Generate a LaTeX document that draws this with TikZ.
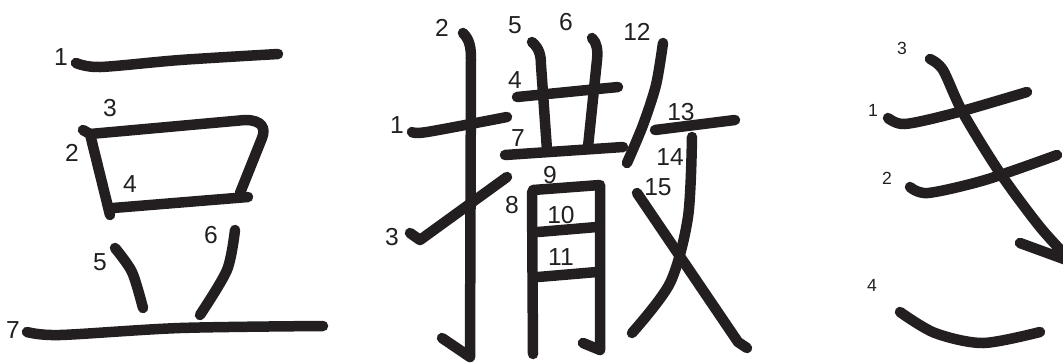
\documentclass[tikz,border=0pt]{standalone}
\usepackage{fontspec}
\setmainfont{Liberation Sans}
\definecolor{ink}{HTML}{231F20}
\tikzset{
  brush/.style={draw=ink, line width=0.21cm, line cap=round, line join=round},
  num/.style={font=\fontsize{14}{14}\selectfont, inner sep=0pt, text=ink},
  smallnum/.style={font=\fontsize{10}{10}\selectfont, inner sep=0pt, text=ink}
}

\begin{document}
\begin{tikzpicture}[x=0.02cm, y=-0.02cm]
\useasboundingbox (0,0) rectangle (1063,363);
\clip (0,0) rectangle (1063,363);
% mame
\draw [brush] plot [smooth] coordinates {(76,63) (100,67) (180,60) (278,54)};
\draw [brush] (83,130) -- (90,134) -- (110,215);
\draw [brush] (90,134) -- (245,120) .. controls (262,120) and (266,128) .. (262,138) -- (240,193);
\draw [brush] (113,208) -- (248,197);
\draw [brush] plot [smooth] coordinates {(115,248) (132,272) (143,308)};
\draw [brush] plot [smooth] coordinates {(235,230) (227,270) (200,315)};
\draw [brush] plot [smooth] coordinates {(27,332) (60,335) (180,328) (323,326)};
\node (m1) at (61,57) [num] {1};
\node (m2) at (72,153) [num] {2};
\node (m3) at (110,108) [num] {3};
\node (m4) at (130,184) [num] {4};
\node (m5) at (100,262) [num] {5};
\node (m6) at (211,235) [num] {6};
\node (m7) at (13,330) [num] {7};
% sanpu
\draw [brush] plot [smooth] coordinates {(412,132) (427,132) (507,117)};
\draw [brush] (463,33) .. controls (470,40) and (471,48) .. (471,60) -- (470,357) -- (442,338);
\draw [brush] (410,233) -- (420,240) -- (507,177);
\draw [brush] (517,97) -- (618,87);
\draw [brush] (532,42) .. controls (539,48) and (541,55) .. (541,65) -- (547,150);
\draw [brush] (592,38) .. controls (597,43) and (598,50) .. (597,60) -- (588,147);
\draw [brush] (505,155) -- (623,147);
\draw [brush] (532,192) -- (533,354);
\draw [brush] (533,190) -- (600,185) -- (600,350) -- (583,343);
\draw [brush] (538,232) -- (597,227);
\draw [brush] (538,277) -- (597,272);
\draw [brush] plot [smooth] coordinates {(663,43) (656,85) (643,125) (627,163)};
\draw [brush] (655,130) -- (735,120);
\draw [brush] plot [smooth] coordinates {(692,137) (688,217) (670,283) (632,333)};
\draw [brush] (637,193) -- (738,342) -- (747,348);
\node (s1) at (397,125) [num] {1};
\node (s2) at (442,28) [num] {2};
\node (s3) at (392,237) [num] {3};
\node (s4) at (515,80) [num] {4};
\node (s5) at (515,25) [num] {5};
\node (s6) at (566,22) [num] {6};
\node (s7) at (518,138) [num] {7};
\node (s8) at (512,205) [num] {8};
\node (s9) at (550,175) [num] {9};
\node (s10) at (561,215) [num] {10};
\node (s11) at (561,257) [num] {11};
\node (s12) at (637,32) [num] {12};
\node (s13) at (681,112) [num] {13};
\node (s14) at (670,157) [num] {14};
\node (s15) at (658,187) [num] {15};
% ki
\draw [brush] plot [smooth] coordinates {(888,118) (905,124) (955,113) (1027,92)};
\draw [brush] plot [smooth] coordinates {(910,187) (928,193) (985,180) (1057,155)};
\draw [brush] plot [smooth] coordinates {(930,59) (943,70) (963,113) (1000,173) (1040,227) (1072,262)} -- (1020,243);
\draw [brush] plot [smooth] coordinates {(900,312) (935,333) (983,343) (1040,332)};
\node (k1) at (873,110) [smallnum] {1};
\node (k2) at (887,178) [smallnum] {2};
\node (k3) at (902,48) [smallnum] {3};
\node (k4) at (872,285) [smallnum] {4};
\end{tikzpicture}
\end{document}
